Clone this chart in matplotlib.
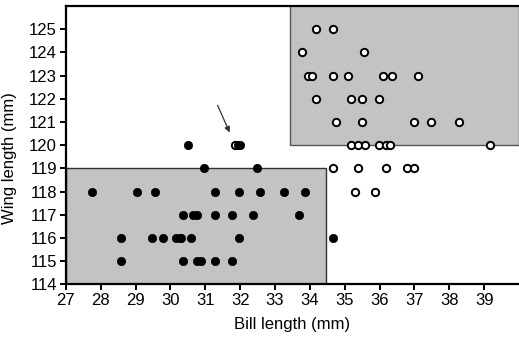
import matplotlib.pyplot as plt
from matplotlib.patches import Rectangle

plt.rcParams['font.family'] = ['Liberation Sans', 'DejaVu Sans']

# filled dots (one group)
filled_bill = [27.76, 29.05, 29.57, 31.29, 31.97, 32.56, 33.27, 33.86,
               30.37, 30.64, 30.77, 31.29, 31.76, 32.36, 33.69,
               28.57, 29.48, 29.78, 30.16, 30.26, 30.30, 30.59, 31.97, 34.66,
               28.57, 30.37, 30.75, 30.89, 31.29, 31.76,
               30.97, 32.47,
               30.50, 31.93, 32.00]
filled_wing = [118] * 8 + [117] * 7 + [116] * 9 + [115] * 6 + [119] * 2 + [120] * 3

# open dots (other group)
open_bill = [34.18, 34.66,
             33.78, 35.56,
             33.95, 34.07, 34.66, 35.08, 36.09, 36.37, 37.09,
             34.18, 35.17, 35.49, 35.97,
             34.76, 35.49, 36.98, 37.48, 38.27,
             31.85, 35.17, 35.38, 35.57, 35.97, 36.19, 36.29, 39.17,
             34.66, 35.38, 36.18, 36.78, 36.99,
             35.29, 35.88]
open_wing = [125] * 2 + [124] * 2 + [123] * 7 + [122] * 4 + [121] * 5 + [120] * 8 + [119] * 5 + [118] * 2

x_ticks = list(range(27, 40))
y_ticks = list(range(114, 126))

fig = plt.figure(figsize=(5.19, 3.40), dpi=100)
ax = fig.add_axes([0.127, 0.164, 0.873, 0.818])

# shaded ranges
ax.add_patch(Rectangle((27, 114), 34.47 - 27, 5, facecolor='#c3c3c3',
                       edgecolor='#333333', linewidth=1.0, zorder=1))
ax.add_patch(Rectangle((33.44, 120), 40 - 33.44, 6.5, facecolor='#c3c3c3',
                       edgecolor='#555555', linewidth=1.0, zorder=1))

ax.scatter(open_bill, open_wing, s=28, facecolor='white', edgecolor='black',
           linewidth=1.4, zorder=3, clip_on=False)
ax.scatter(filled_bill, filled_wing, s=36, facecolor='black', edgecolor='black',
           linewidth=0.5, zorder=4, clip_on=False)

ax.annotate('', xy=(31.73, 120.44), xytext=(31.32, 121.83),
            arrowprops=dict(arrowstyle='-|>', color='#333333', lw=0.9,
                            mutation_scale=8))

ax.set_xlim(27, 40)
ax.set_ylim(114, 126)
ax.set_xticks(x_ticks)
ax.set_yticks(y_ticks)
ax.tick_params(direction='out', length=4.5, width=1.4, labelsize=12, pad=2)
ax.spines['right'].set_visible(False)
for s in ['left', 'bottom', 'top']:
    ax.spines[s].set_linewidth(1.6)

ax.set_xlabel('Bill length (mm)', fontsize=12, labelpad=6)
ax.set_ylabel('Wing length (mm)', fontsize=12)
ax.yaxis.set_label_coords(-0.108, 0.455)

fig.savefig('out.png', dpi=100)
